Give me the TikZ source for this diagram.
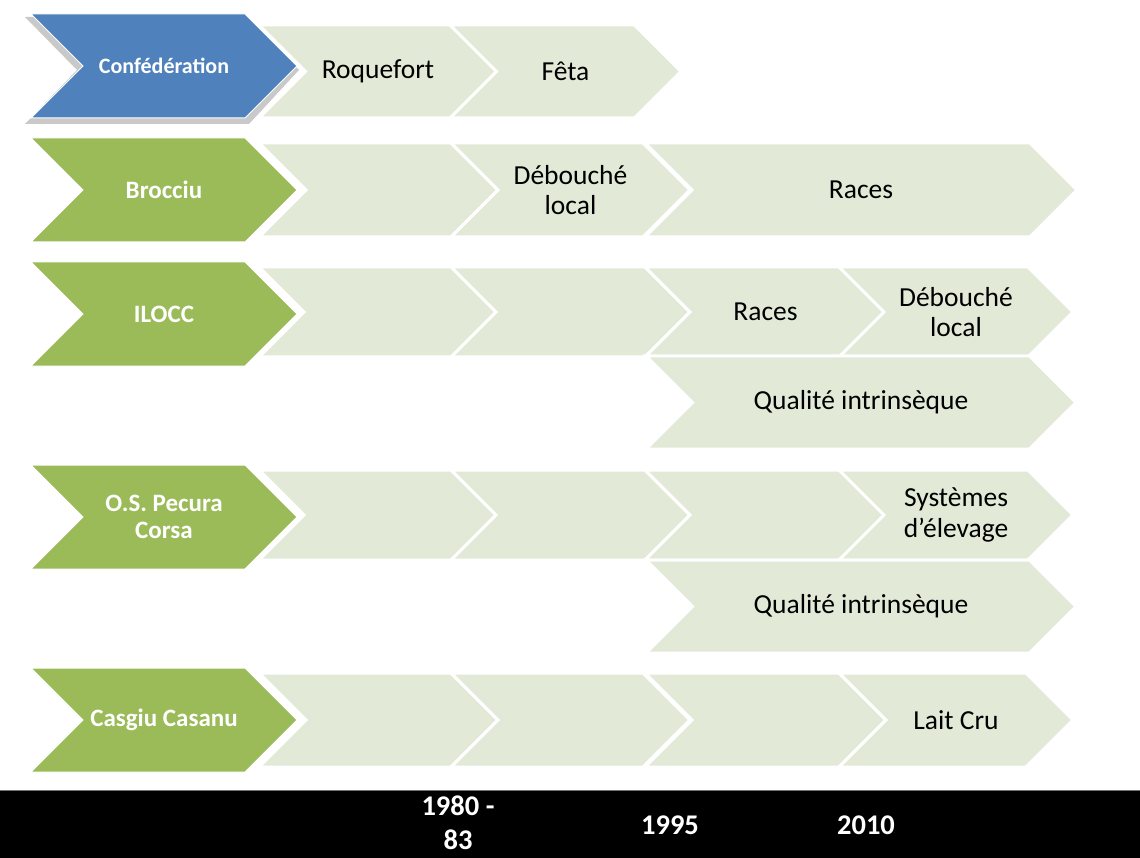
\documentclass[tikz,border=0pt]{standalone}
\usepackage{fontspec}
\setmainfont{Carlito}
\definecolor{liteC}{HTML}{E2EAD7}
\definecolor{greenC}{HTML}{9BBB59}
\definecolor{blueC}{HTML}{4F81BD}
\tikzset{
  litebox/.style={fill=liteC, draw=white, line width=3pt, line join=miter},
  litetxt/.style={text=black, align=center, inner sep=0pt, font=\fontsize{27.5}{30.5}\selectfont},
  greenbox/.style={fill=greenC, draw=white, line width=1pt, line join=miter},
  greentxt/.style={text=white, align=center, inner sep=0pt, font=\fontsize{25}{27}\selectfont\bfseries},
  bluebox/.style={fill=blueC, draw=white, line width=1pt, line join=miter},
  bluetxt/.style={text=white, align=center, inner sep=0pt, font=\fontsize{22}{26}\selectfont\bfseries},
  bartxt/.style={text=white, align=center, inner sep=0pt, font=\fontsize{28.5}{34}\selectfont\bfseries},
}
% style, name, left, tip, ymid, half height, text
\newcommand\chev[7]{%
  \draw[#1box] (#3,#5-#6) -- (#4-#6,#5-#6) -- (#4,#5) -- (#4-#6,#5+#6) -- (#3,#5+#6) -- (#3+#6,#5) -- cycle;
  \node[#1txt] (#2) at ({(#3+#4)/2},#5) {#7};
}
\begin{document}
\begin{tikzpicture}[x=1pt,y=-1pt]
\useasboundingbox (0,0) rectangle (1140,858);
% row 1
\chev{lite}{roq}{259}{497}{71.5}{46.5}{Roquefort}
\chev{lite}{feta}{450}{681}{71.5}{46.5}{Fêta}
% row 2
\chev{lite}{b1}{259}{498}{190}{47}{}
\chev{lite}{bdeb}{451}{690}{190}{47}{Débouché\\local}
\chev{lite}{braces}{645}{1077}{190}{47}{Races}
% row 3
\chev{lite}{i1}{259}{498}{312}{45}{}
\chev{lite}{i2}{451}{690}{312}{45}{}
\chev{lite}{iraces}{645}{886}{312}{45}{Races}
\chev{lite}{ideb}{839}{1073}{312}{45}{Débouché\\local}
\chev{lite}{iqual}{646}{1076}{402.5}{46.5}{Qualité intrinsèque}
% row 4
\chev{lite}{o1}{259}{498}{515}{45}{}
\chev{lite}{o2}{451}{690}{515}{45}{}
\chev{lite}{o3}{645}{886}{515}{45}{}
\chev{lite}{osys}{839}{1073}{515}{45}{Systèmes\\d’élevage}
\chev{lite}{oqual}{646}{1076}{606.5}{46.5}{Qualité intrinsèque}
% row 5
\chev{lite}{c1}{259}{498}{720}{47}{}
\chev{lite}{c2}{451}{690}{720}{47}{}
\chev{lite}{c3}{645}{886}{720}{47}{}
\chev{lite}{clait}{839}{1073}{720}{47}{Lait Cru}
% main chevrons
\fill[black!30, opacity=0.7] (25,17) -- (247,17) -- (299,70) -- (249,124) -- (25,124) -- (77,70) -- cycle;
\chev{blue}{conf}{31}{297}{66}{52}{Confédération}
\chev{green}{broc}{31}{297}{190}{52}{Brocciu}
\chev{green}{ilocc}{31}{297}{314}{52}{ILOCC}
\chev{green}{osp}{31}{297}{517}{52}{O.S. Pecura\\Corsa}
\chev{green}{casg}{31}{297}{720}{52}{Casgiu Casanu}
% bottom bar
\fill[black] (0,790) rectangle (1140,858);
\draw[black!55, line width=1pt] (0,790.5) -- (1140,790.5);
\node[bartxt] (y80) at (458,823) {1980 -\\83};
\node[bartxt] (y95) at (670,825) {1995};
\node[bartxt] (y10) at (866,825) {2010};
\end{tikzpicture}
\end{document}
